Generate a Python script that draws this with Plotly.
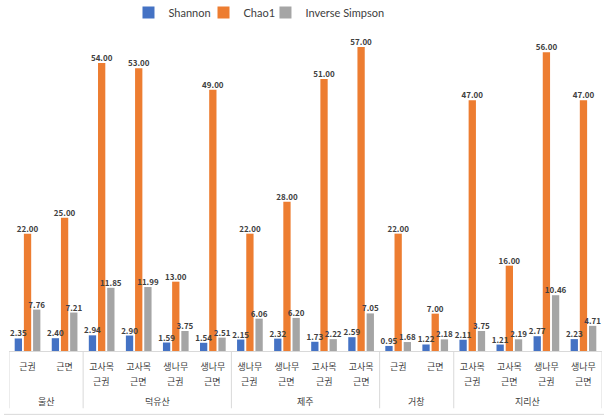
import plotly.graph_objects as go

groups = ["울산", "울산",
          "덕유산", "덕유산", "덕유산", "덕유산",
          "제주", "제주", "제주", "제주",
          "거창", "거창",
          "지리산", "지리산", "지리산", "지리산"]
label_top = ["근권", "근면",
             "고사목", "고사목", "생나무", "생나무",
             "생나무", "생나무", "고사목", "고사목",
             "근권", "근면",
             "고사목", "고사목", "생나무", "생나무"]
label_bottom = ["", "",
                "근권", "근면", "근권", "근면",
                "근권", "근면", "근권", "근면",
                "", "",
                "근권", "근면", "근권", "근면"]

shannon = [2.35, 2.40, 2.94, 2.90, 1.59, 1.54, 2.15, 2.32, 1.73, 2.59, 0.95, 1.22, 2.11, 1.21, 2.77, 2.23]
chao1 = [22, 25, 54, 53, 13, 49, 22, 28, 51, 57, 22, 7, 47, 16, 56, 47]
inv_simpson = [7.76, 7.21, 11.85, 11.99, 3.75, 2.51, 6.06, 6.20, 2.22, 7.05, 1.68, 2.18, 3.75, 2.19, 10.46, 4.71]

series_names = ["Shannon", "Chao1", "Inverse Simpson"]
series_values = [shannon, chao1, inv_simpson]
series_colors = ["#4472C4", "#ED7D31", "#A5A5A5"]

font_family = "Noto Sans CJK KR"
legend_font = "Lato"
text_col = "#404040"
line_col = "#d9d9d9"

idx = list(range(len(groups)))
bar_w = 0.197
pitch = 0.248
shifts = [-pitch, 0.0, pitch]
legend_ids = ["legend", "legend2", "legend3"]
legend_x = [0.2015, 0.3280, 0.4325]

fig = go.Figure()
for name, vals, color, sh, lg in zip(series_names, series_values, series_colors, shifts, legend_ids):
    fig.add_trace(go.Bar(
        name=name, x=idx, y=vals,
        width=bar_w, offset=sh - bar_w / 2,
        marker=dict(color=color, line=dict(width=0)),
        legend=lg,
    ))
# value labels drawn above all bars
for name, vals, sh in zip(series_names, series_values, shifts):
    fig.add_trace(go.Scatter(
        x=[i + sh for i in idx], y=vals, mode="text",
        text=[f"<b>{v:.2f}</b>" for v in vals],
        textposition="top center",
        textfont=dict(size=8, color=text_col, family=font_family),
        showlegend=False, hoverinfo="skip", cliponaxis=False,
    ))

# second line of category labels
for i, t in zip(idx, label_bottom):
    if t:
        fig.add_annotation(x=i, y=-0.096, xref="x", yref="paper", text=t,
                           showarrow=False, yanchor="middle",
                           font=dict(size=9, color=text_col, family=font_family))

# group labels and dividers
spans = []
start = 0
for i in range(1, len(groups) + 1):
    if i == len(groups) or groups[i] != groups[start]:
        spans.append((groups[start], start, i - 1))
        start = i

y_div = -0.179
y_bottom = -0.198
for name, a, b in spans:
    fig.add_annotation(x=(a + b) / 2, y=-0.157, xref="x", yref="paper", text=name,
                       showarrow=False, yanchor="middle",
                       font=dict(size=9, color=text_col, family=font_family))
    fig.add_shape(type="line", xref="x", yref="paper", x0=a - 0.5, x1=a - 0.5,
                  y0=0, y1=y_div, line=dict(color=line_col, width=1))
fig.add_shape(type="line", xref="x", yref="paper", x0=len(groups) - 0.5, x1=len(groups) - 0.5,
              y0=0, y1=y_div, line=dict(color=line_col, width=1))
fig.add_shape(type="line", xref="paper", yref="paper", x0=-0.0084, x1=1.0034,
              y0=y_bottom, y1=y_bottom, line=dict(color=line_col, width=1))

legend_common = dict(orientation="h", xanchor="left", y=1.058, yanchor="middle",
                     font=dict(size=11, color=text_col, family=legend_font),
                     itemwidth=30, bgcolor="rgba(0,0,0,0)")
fig.update_layout(
    width=614, height=420,
    margin=dict(l=9, r=12, t=31, b=69, autoexpand=False),
    barmode="overlay",
    plot_bgcolor="white",
    paper_bgcolor="white",
    font=dict(family=font_family, color=text_col, size=11),
    showlegend=True,
    legend=dict(x=legend_x[0], **legend_common),
    legend2=dict(x=legend_x[1], **legend_common),
    legend3=dict(x=legend_x[2], **legend_common),
)
fig.update_xaxes(
    range=[-0.5, len(groups) - 0.5],
    tickvals=idx, ticktext=label_top, tickangle=0,
    showline=True, linecolor=line_col, linewidth=1,
    tickfont=dict(size=9, color=text_col, family=font_family),
    ticks="", ticklabelstandoff=7,
    showgrid=False, zeroline=False,
)
fig.update_yaxes(
    range=[0, 60],
    showgrid=False, showticklabels=False, zeroline=False, showline=False,
)

fig.write_html("out.html", config={"displayModeBar": False},
               post_script="document.body.style.margin='0';")
